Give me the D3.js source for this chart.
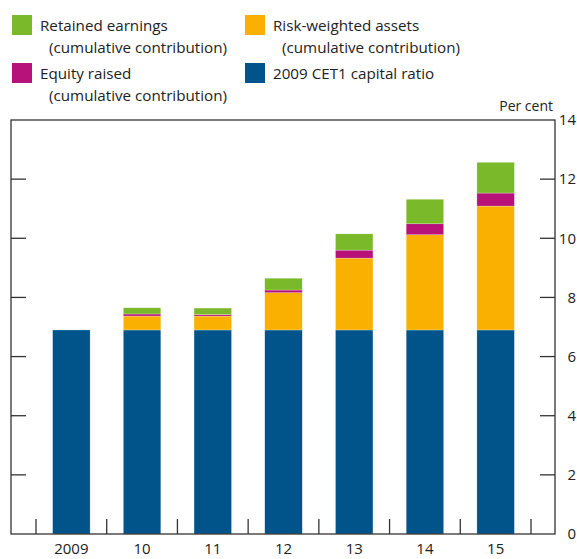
<!DOCTYPE html>
<html>
<head>
<meta charset="utf-8">
<script src="https://cdn.jsdelivr.net/npm/d3@7"></script>
<style>
  body { margin: 0; background: #fff; }
  text { font-family: "Open Sans", "Noto Sans", sans-serif; fill: #222; }
</style>
</head>
<body>
<svg id="chart" width="577" height="559"></svg>
<script>
const years = ["2009", "10", "11", "12", "13", "14", "15"];
const baseRatio = [6.9, 6.9, 6.9, 6.9, 6.9, 6.9, 6.9];
const rwaContribution = [0, 0.47, 0.47, 1.26, 2.43, 3.22, 4.19];
const equityRaised = [0, 0.07, 0.05, 0.09, 0.27, 0.37, 0.44];
const retainedEarnings = [0, 0.21, 0.22, 0.40, 0.55, 0.83, 1.04];
const yTicks = [0, 2, 4, 6, 8, 10, 12, 14];

const seriesKeys = ["base", "rwa", "equity", "retained"];
const colors = { base: "#00548a", rwa: "#f9b000", equity: "#b6127a", retained: "#7ab929" };

const rows = years.map((y, i) => ({
  year: y,
  base: baseRatio[i],
  rwa: rwaContribution[i],
  equity: equityRaised[i],
  retained: retainedEarnings[i]
}));

const svg = d3.select("#chart");
const frame = { left: 11, right: 555, top: 120, bottom: 534 };

const x = d3.scaleBand()
  .domain(years)
  .range([36, 531])
  .paddingInner(0.47)
  .paddingOuter(0.235);

const y = d3.scaleLinear()
  .domain([0, 14])
  .range([frame.bottom, frame.top]);

const stacked = d3.stack().keys(seriesKeys)(rows);

svg.append("g")
  .selectAll("g")
  .data(stacked)
  .enter()
  .append("g")
  .attr("fill", d => colors[d.key])
  .selectAll("rect")
  .data(d => d.filter(p => p[1] - p[0] > 0))
  .enter()
  .append("rect")
  .attr("x", d => x(d.data.year))
  .attr("width", x.bandwidth())
  .attr("y", d => y(d[1]))
  .attr("height", d => y(d[0]) - y(d[1]))
  .attr("stroke", "#fff")
  .attr("stroke-opacity", 0.5)
  .attr("stroke-width", 0.5);

// frame
svg.append("rect")
  .attr("x", frame.left)
  .attr("y", frame.top)
  .attr("width", frame.right - frame.left)
  .attr("height", frame.bottom - frame.top)
  .attr("fill", "none")
  .attr("stroke", "#333")
  .attr("stroke-width", 1.3);

// y ticks on both sides
const tickLen = 15;
svg.append("g")
  .selectAll("line.l")
  .data(yTicks.slice(1, -1))
  .enter()
  .append("line")
  .attr("x1", frame.left).attr("x2", frame.left + tickLen)
  .attr("y1", d => y(d)).attr("y2", d => y(d))
  .attr("stroke", "#333").attr("stroke-width", 1.3);

svg.append("g")
  .selectAll("line.r")
  .data(yTicks.slice(1, -1))
  .enter()
  .append("line")
  .attr("x1", frame.right - tickLen).attr("x2", frame.right)
  .attr("y1", d => y(d)).attr("y2", d => y(d))
  .attr("stroke", "#333").attr("stroke-width", 1.3);

svg.append("g")
  .selectAll("text")
  .data(yTicks)
  .enter()
  .append("text")
  .attr("x", 576)
  .attr("y", d => y(d))
  .attr("dy", "0.35em")
  .attr("text-anchor", "end")
  .attr("font-size", 15)
  .text(d => d);

svg.append("text")
  .attr("x", 553)
  .attr("y", 111)
  .attr("text-anchor", "end")
  .attr("font-size", 14)
  .text("Per cent");

// x ticks between bars
const step = x.step();
const bounds = years.map(d => x(d) - (step - x.bandwidth()) / 2);
bounds.push(x(years[years.length - 1]) + x.bandwidth() + (step - x.bandwidth()) / 2);
svg.append("g")
  .selectAll("line")
  .data(bounds)
  .enter()
  .append("line")
  .attr("x1", d => d).attr("x2", d => d)
  .attr("y1", frame.bottom).attr("y2", frame.bottom - tickLen)
  .attr("stroke", "#333").attr("stroke-width", 1.3);

svg.append("g")
  .selectAll("text")
  .data(years)
  .enter()
  .append("text")
  .attr("x", d => x(d) + x.bandwidth() / 2)
  .attr("y", 554)
  .attr("text-anchor", "middle")
  .attr("font-size", 15)
  .text(d => d);

// legend
const legendItems = [
  { key: "retained", lines: ["Retained earnings", "(cumulative contribution)"], x: 12, y: 15 },
  { key: "rwa", lines: ["Risk-weighted assets", "(cumulative contribution)"], x: 245, y: 15 },
  { key: "equity", lines: ["Equity raised", "(cumulative contribution)"], x: 12, y: 63 },
  { key: "base", lines: ["2009 CET1 capital ratio"], x: 245, y: 63 }
];

const lg = svg.append("g")
  .selectAll("g")
  .data(legendItems)
  .enter()
  .append("g")
  .attr("transform", d => `translate(${d.x},${d.y})`);

lg.append("rect")
  .attr("width", 20).attr("height", 20)
  .attr("fill", d => colors[d.key]);

lg.each(function(d) {
  const g = d3.select(this);
  d.lines.forEach((t, i) => {
    g.append("text")
      .attr("x", i === 0 ? 28 : 37)
      .attr("y", 16 + i * 22)
      .attr("font-size", 15.2)
      .text(t);
  });
});
</script>
</body>
</html>
